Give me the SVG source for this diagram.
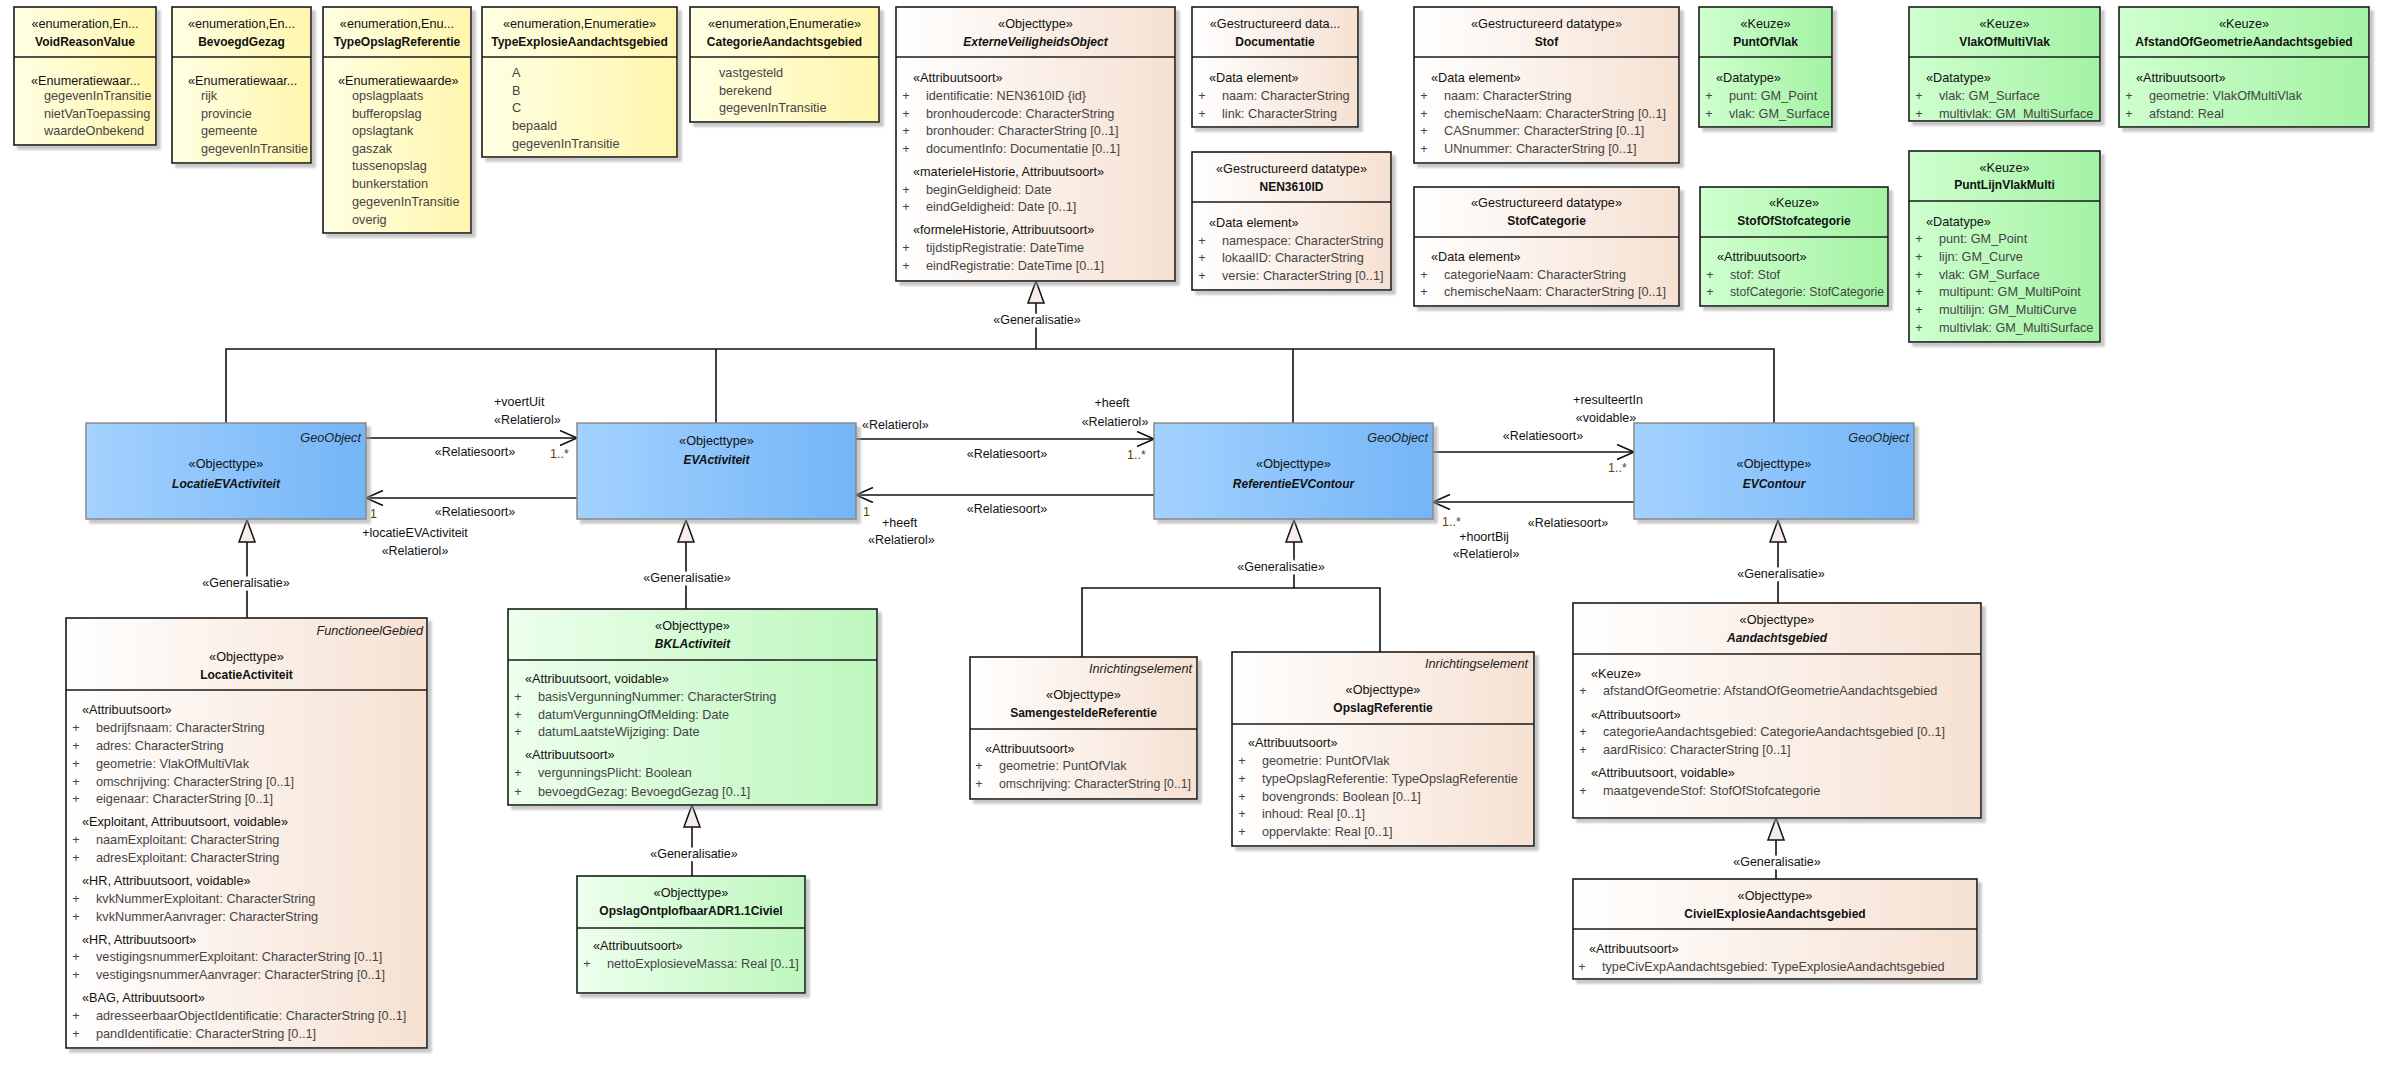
<svg xmlns="http://www.w3.org/2000/svg" width="2392" height="1067" viewBox="0 0 2392 1067">
<defs>
<linearGradient id="gEnum"><stop offset="0" stop-color="#FFFFE3"/><stop offset="1" stop-color="#FFF6AD"/></linearGradient>
<linearGradient id="gBeige"><stop offset="0" stop-color="#FFFFFF"/><stop offset="1" stop-color="#F6E1D2"/></linearGradient>
<linearGradient id="gKeuze"><stop offset="0" stop-color="#CFFFCF"/><stop offset="1" stop-color="#A3F2A3"/></linearGradient>
<linearGradient id="gGreen"><stop offset="0" stop-color="#EDFFED"/><stop offset="1" stop-color="#BDF7BD"/></linearGradient>
<linearGradient id="gBlue"><stop offset="0" stop-color="#A4D2FF"/><stop offset="1" stop-color="#73B5F7"/></linearGradient>
<filter id="sh" x="-5%" y="-5%" width="115%" height="115%"><feDropShadow dx="4" dy="4" stdDeviation="0.8" flood-color="#9a9a9a" flood-opacity="0.55"/></filter>
<marker id="open" markerUnits="userSpaceOnUse" markerWidth="22" markerHeight="20" refX="18" refY="8" orient="auto"><path d="M1,0.5 L18,8 L1,15.5" fill="none" stroke="#111" stroke-width="1.6"/></marker>
<path id="gen" d="M0,0 L8,22 L-8,22 Z" fill="#F5EDEA" stroke="#111" stroke-width="1.5"/>
<style>
text{font-family:"Liberation Sans",Arial,sans-serif;font-size:12.7px;fill:#111}
.box{stroke:#1a1a1a;stroke-width:1.6;filter:url(#sh)}
.blue{fill:url(#gBlue);stroke:#8a8a8a;stroke-width:1.5;filter:url(#sh)}
.enum{fill:url(#gEnum)}
.beige{fill:url(#gBeige)}
.keuze{fill:url(#gKeuze)}
.green{fill:url(#gGreen)}
.div{stroke:#1a1a1a;stroke-width:1.6}
.st{text-anchor:middle}
.nm{text-anchor:middle;font-weight:bold;font-size:12px}
.nmi{text-anchor:middle;font-weight:bold;font-style:italic;font-size:12px}
.sec{fill:#111}
.it{fill:#444}
.pl{fill:#444;text-anchor:middle}
.geo{text-anchor:end;font-style:italic;fill:#222}
.lbl{font-size:12.5px}
.mid{text-anchor:middle}
.mult{font-size:12.5px;fill:#6b3a00}
.gl{font-size:12.5px;text-anchor:middle;paint-order:stroke;stroke:#fff;stroke-width:7px;stroke-linejoin:round}
.ln{fill:none;stroke:#111;stroke-width:1.6}
</style>
</defs>
<rect width="2392" height="1067" fill="#fff"/>

<g id="connectors">
<polyline class="ln" points="226,423 226,349 1774,349 1774,423"/>
<line class="ln" x1="716" y1="349" x2="716" y2="423"/>
<line class="ln" x1="1293" y1="349" x2="1293" y2="423"/>
<line class="ln" x1="1036" y1="349" x2="1036" y2="303"/>
<use href="#gen" x="1036" y="281"/>
<text class="gl" x="1037" y="323.5">«Generalisatie»</text>

<line class="ln" x1="366" y1="438" x2="577" y2="438" marker-end="url(#open)"/>
<text class="lbl" x="494" y="406">+voertUit</text>
<text class="lbl" x="494" y="424">«Relatierol»</text>
<text class="lbl mid" x="475" y="455.5">«Relatiesoort»</text>
<text class="mult" x="550" y="457.5">1..*</text>

<line class="ln" x1="577" y1="498" x2="366" y2="498" marker-end="url(#open)"/>
<text class="lbl mid" x="475" y="515.5">«Relatiesoort»</text>
<text class="mult" x="370" y="517.5">1</text>
<text class="lbl mid" x="415" y="536.5">+locatieEVActiviteit</text>
<text class="lbl mid" x="415" y="554.5">«Relatierol»</text>

<line class="ln" x1="856" y1="439" x2="1154" y2="439" marker-end="url(#open)"/>
<text class="lbl" x="862" y="428.5">«Relatierol»</text>
<text class="lbl mid" x="1112" y="406.5">+heeft</text>
<text class="lbl mid" x="1115" y="425.5">«Relatierol»</text>
<text class="lbl mid" x="1007" y="457.5">«Relatiesoort»</text>
<text class="mult" x="1127" y="458.5">1..*</text>

<line class="ln" x1="1154" y1="495" x2="856" y2="495" marker-end="url(#open)"/>
<text class="lbl mid" x="1007" y="512.5">«Relatiesoort»</text>
<text class="mult" x="863" y="515.5">1</text>
<text class="lbl" x="882" y="526.5">+heeft</text>
<text class="lbl" x="868" y="543.5">«Relatierol»</text>

<line class="ln" x1="1433" y1="452" x2="1634" y2="452" marker-end="url(#open)"/>
<text class="lbl mid" x="1608" y="403.5">+resulteertIn</text>
<text class="lbl mid" x="1606" y="421.5">«voidable»</text>
<text class="lbl mid" x="1543" y="439.5">«Relatiesoort»</text>
<text class="mult" x="1608" y="471.5">1..*</text>

<line class="ln" x1="1634" y1="502" x2="1433" y2="502" marker-end="url(#open)"/>
<text class="mult" x="1442" y="525.5">1..*</text>
<text class="lbl mid" x="1568" y="526.5">«Relatiesoort»</text>
<text class="lbl mid" x="1484" y="540.5">+hoortBij</text>
<text class="lbl mid" x="1486" y="557.5">«Relatierol»</text>

<line class="ln" x1="247" y1="542" x2="247" y2="618"/>
<use href="#gen" x="247" y="520"/>
<text class="gl" x="246" y="586.5">«Generalisatie»</text>

<line class="ln" x1="686" y1="542" x2="686" y2="609"/>
<use href="#gen" x="686" y="520"/>
<text class="gl" x="687" y="581.5">«Generalisatie»</text>

<line class="ln" x1="692" y1="827" x2="692" y2="876"/>
<use href="#gen" x="692" y="805"/>
<text class="gl" x="694" y="857.5">«Generalisatie»</text>

<polyline class="ln" points="1082,657 1082,588 1380,588 1380,652"/>
<line class="ln" x1="1294" y1="542" x2="1294" y2="588"/>
<use href="#gen" x="1294" y="520"/>
<text class="gl" x="1281" y="570.5">«Generalisatie»</text>

<line class="ln" x1="1778" y1="542" x2="1778" y2="603"/>
<use href="#gen" x="1778" y="520"/>
<text class="gl" x="1781" y="577.5">«Generalisatie»</text>

<line class="ln" x1="1776" y1="840" x2="1776" y2="879"/>
<use href="#gen" x="1776" y="818"/>
<text class="gl" x="1777" y="866">«Generalisatie»</text>
</g>

<g id="VoidReasonValue">
<rect class="box enum" x="14" y="7" width="142" height="138"/>
<line class="div" x1="14" y1="57" x2="156" y2="57"/>
<text class="st" x="85" y="27.5">«enumeration,En...</text>
<text class="nm" x="85" y="45.5">VoidReasonValue</text>
<text class="sec" x="31" y="84.5">«Enumeratiewaar...</text>
<text class="it" x="44" y="99.5">gegevenInTransitie</text>
<text class="it" x="44" y="117.5">nietVanToepassing</text>
<text class="it" x="44" y="134.5">waardeOnbekend</text>
</g>

<g id="BevoegdGezag">
<rect class="box enum" x="172" y="7" width="139" height="156"/>
<line class="div" x1="172" y1="57" x2="311" y2="57"/>
<text class="st" x="241.5" y="27.5">«enumeration,En...</text>
<text class="nm" x="241.5" y="45.5">BevoegdGezag</text>
<text class="sec" x="188" y="84.5">«Enumeratiewaar...</text>
<text class="it" x="201" y="99.5">rijk</text>
<text class="it" x="201" y="117.5">provincie</text>
<text class="it" x="201" y="134.5">gemeente</text>
<text class="it" x="201" y="152.5" textLength="107" lengthAdjust="spacingAndGlyphs">gegevenInTransitie</text>
</g>

<g id="TypeOpslagReferentie">
<rect class="box enum" x="323" y="7" width="148" height="226"/>
<line class="div" x1="323" y1="57" x2="471" y2="57"/>
<text class="st" x="397" y="27.5">«enumeration,Enu...</text>
<text class="nm" x="397" y="45.5">TypeOpslagReferentie</text>
<text class="sec" x="338" y="84.5">«Enumeratiewaarde»</text>
<text class="it" x="352" y="99.5">opslagplaats</text>
<text class="it" x="352" y="117.5">bufferopslag</text>
<text class="it" x="352" y="134.5">opslagtank</text>
<text class="it" x="352" y="152.5">gaszak</text>
<text class="it" x="352" y="170">tussenopslag</text>
<text class="it" x="352" y="188">bunkerstation</text>
<text class="it" x="352" y="205.5">gegevenInTransitie</text>
<text class="it" x="352" y="223.5">overig</text>
</g>

<g id="TypeExplosieAandachtsgebied">
<rect class="box enum" x="482" y="7" width="195" height="150"/>
<line class="div" x1="482" y1="57" x2="677" y2="57"/>
<text class="st" x="579.5" y="27.5">«enumeration,Enumeratie»</text>
<text class="nm" x="579.5" y="45.5">TypeExplosieAandachtsgebied</text>
<text class="it" x="512" y="76.5">A</text>
<text class="it" x="512" y="94.5">B</text>
<text class="it" x="512" y="112">C</text>
<text class="it" x="512" y="129.5">bepaald</text>
<text class="it" x="512" y="147.5">gegevenInTransitie</text>
</g>

<g id="CategorieAandachtsgebied">
<rect class="box enum" x="690" y="7" width="189" height="115"/>
<line class="div" x1="690" y1="57" x2="879" y2="57"/>
<text class="st" x="784.5" y="27.5">«enumeration,Enumeratie»</text>
<text class="nm" x="784.5" y="45.5">CategorieAandachtsgebied</text>
<text class="it" x="719" y="76.5">vastgesteld</text>
<text class="it" x="719" y="94.5">berekend</text>
<text class="it" x="719" y="112">gegevenInTransitie</text>
</g>

<g id="ExterneVeiligheidsObject">
<rect class="box beige" x="896" y="7" width="279" height="274"/>
<line class="div" x1="896" y1="57" x2="1175" y2="57"/>
<text class="st" x="1035.5" y="27.5">«Objecttype»</text>
<text class="nmi" x="1035.5" y="45.5">ExterneVeiligheidsObject</text>
<text class="sec" x="913" y="81.5">«Attribuutsoort»</text>
<text class="pl" x="906" y="99.5">+</text><text class="it" x="926" y="99.5">identificatie: NEN3610ID {id}</text>
<text class="pl" x="906" y="117.5">+</text><text class="it" x="926" y="117.5">bronhoudercode: CharacterString</text>
<text class="pl" x="906" y="134.5">+</text><text class="it" x="926" y="134.5">bronhouder: CharacterString [0..1]</text>
<text class="pl" x="906" y="152.5">+</text><text class="it" x="926" y="152.5">documentInfo: Documentatie [0..1]</text>
<text class="sec" x="913" y="175.5">«materieleHistorie, Attribuutsoort»</text>
<text class="pl" x="906" y="193.5">+</text><text class="it" x="926" y="193.5">beginGeldigheid: Date</text>
<text class="pl" x="906" y="210.5">+</text><text class="it" x="926" y="210.5">eindGeldigheid: Date [0..1]</text>
<text class="sec" x="913" y="233.5">«formeleHistorie, Attribuutsoort»</text>
<text class="pl" x="906" y="251.5">+</text><text class="it" x="926" y="251.5">tijdstipRegistratie: DateTime</text>
<text class="pl" x="906" y="269.5">+</text><text class="it" x="926" y="269.5">eindRegistratie: DateTime [0..1]</text>
</g>

<g id="Documentatie">
<rect class="box beige" x="1192" y="7" width="166" height="120"/>
<line class="div" x1="1192" y1="57" x2="1358" y2="57"/>
<text class="st" x="1275" y="27.5">«Gestructureerd data...</text>
<text class="nm" x="1275" y="45.5">Documentatie</text>
<text class="sec" x="1209" y="81.5">«Data element»</text>
<text class="pl" x="1202" y="99.5">+</text><text class="it" x="1222" y="99.5">naam: CharacterString</text>
<text class="pl" x="1202" y="117.5">+</text><text class="it" x="1222" y="117.5">link: CharacterString</text>
</g>

<g id="NEN3610ID">
<rect class="box beige" x="1192" y="152" width="199" height="138"/>
<line class="div" x1="1192" y1="202" x2="1391" y2="202"/>
<text class="st" x="1291.5" y="172.5">«Gestructureerd datatype»</text>
<text class="nm" x="1291.5" y="190.5">NEN3610ID</text>
<text class="sec" x="1209" y="226.5">«Data element»</text>
<text class="pl" x="1202" y="244.5">+</text><text class="it" x="1222" y="244.5">namespace: CharacterString</text>
<text class="pl" x="1202" y="261.5">+</text><text class="it" x="1222" y="261.5">lokaalID: CharacterString</text>
<text class="pl" x="1202" y="279.5">+</text><text class="it" x="1222" y="279.5">versie: CharacterString [0..1]</text>
</g>

<g id="Stof">
<rect class="box beige" x="1414" y="7" width="265" height="156"/>
<line class="div" x1="1414" y1="57" x2="1679" y2="57"/>
<text class="st" x="1546.5" y="27.5">«Gestructureerd datatype»</text>
<text class="nm" x="1546.5" y="45.5">Stof</text>
<text class="sec" x="1431" y="81.5">«Data element»</text>
<text class="pl" x="1424" y="99.5">+</text><text class="it" x="1444" y="99.5">naam: CharacterString</text>
<text class="pl" x="1424" y="117.5">+</text><text class="it" x="1444" y="117.5">chemischeNaam: CharacterString [0..1]</text>
<text class="pl" x="1424" y="134.5">+</text><text class="it" x="1444" y="134.5">CASnummer: CharacterString [0..1]</text>
<text class="pl" x="1424" y="152.5">+</text><text class="it" x="1444" y="152.5">UNnummer: CharacterString [0..1]</text>
</g>

<g id="StofCategorie">
<rect class="box beige" x="1414" y="187" width="265" height="119"/>
<line class="div" x1="1414" y1="237" x2="1679" y2="237"/>
<text class="st" x="1546.5" y="206.5">«Gestructureerd datatype»</text>
<text class="nm" x="1546.5" y="224.5">StofCategorie</text>
<text class="sec" x="1431" y="260.5">«Data element»</text>
<text class="pl" x="1424" y="278.5">+</text><text class="it" x="1444" y="278.5">categorieNaam: CharacterString</text>
<text class="pl" x="1424" y="295.5">+</text><text class="it" x="1444" y="295.5">chemischeNaam: CharacterString [0..1]</text>
</g>

<g id="PuntOfVlak">
<rect class="box keuze" x="1699" y="7" width="133" height="120"/>
<line class="div" x1="1699" y1="57" x2="1832" y2="57"/>
<text class="st" x="1765.5" y="27.5">«Keuze»</text>
<text class="nm" x="1765.5" y="45.5">PuntOfVlak</text>
<text class="sec" x="1716" y="81.5">«Datatype»</text>
<text class="pl" x="1709" y="99.5">+</text><text class="it" x="1729" y="99.5">punt: GM_Point</text>
<text class="pl" x="1709" y="117.5">+</text><text class="it" x="1729" y="117.5">vlak: GM_Surface</text>
</g>

<g id="VlakOfMultiVlak">
<rect class="box keuze" x="1909" y="7" width="191" height="114"/>
<line class="div" x1="1909" y1="57" x2="2100" y2="57"/>
<text class="st" x="2004.5" y="27.5">«Keuze»</text>
<text class="nm" x="2004.5" y="45.5">VlakOfMultiVlak</text>
<text class="sec" x="1926" y="81.5">«Datatype»</text>
<text class="pl" x="1919" y="99.5">+</text><text class="it" x="1939" y="99.5">vlak: GM_Surface</text>
<text class="pl" x="1919" y="117.5">+</text><text class="it" x="1939" y="117.5">multivlak: GM_MultiSurface</text>
</g>

<g id="AfstandOfGeometrieAandachtsgebied">
<rect class="box keuze" x="2119" y="7" width="250" height="120"/>
<line class="div" x1="2119" y1="57" x2="2369" y2="57"/>
<text class="st" x="2244" y="27.5">«Keuze»</text>
<text class="nm" x="2244" y="45.5">AfstandOfGeometrieAandachtsgebied</text>
<text class="sec" x="2136" y="81.5">«Attribuutsoort»</text>
<text class="pl" x="2129" y="99.5">+</text><text class="it" x="2149" y="99.5">geometrie: VlakOfMultiVlak</text>
<text class="pl" x="2129" y="117.5">+</text><text class="it" x="2149" y="117.5">afstand: Real</text>
</g>

<g id="StofOfStofcategorie">
<rect class="box keuze" x="1700" y="187" width="188" height="119"/>
<line class="div" x1="1700" y1="237" x2="1888" y2="237"/>
<text class="st" x="1794" y="206.5">«Keuze»</text>
<text class="nm" x="1794" y="224.5">StofOfStofcategorie</text>
<text class="sec" x="1717" y="260.5">«Attribuutsoort»</text>
<text class="pl" x="1710" y="278.5">+</text><text class="it" x="1730" y="278.5">stof: Stof</text>
<text class="pl" x="1710" y="295.5">+</text><text class="it" x="1730" y="295.5" textLength="154" lengthAdjust="spacingAndGlyphs">stofCategorie: StofCategorie</text>
</g>

<g id="PuntLijnVlakMulti">
<rect class="box keuze" x="1909" y="151" width="191" height="191"/>
<line class="div" x1="1909" y1="201" x2="2100" y2="201"/>
<text class="st" x="2004.5" y="171.5">«Keuze»</text>
<text class="nm" x="2004.5" y="188.5">PuntLijnVlakMulti</text>
<text class="sec" x="1926" y="225.5">«Datatype»</text>
<text class="pl" x="1919" y="242.5">+</text><text class="it" x="1939" y="242.5">punt: GM_Point</text>
<text class="pl" x="1919" y="260.5">+</text><text class="it" x="1939" y="260.5">lijn: GM_Curve</text>
<text class="pl" x="1919" y="278.5">+</text><text class="it" x="1939" y="278.5">vlak: GM_Surface</text>
<text class="pl" x="1919" y="295.5">+</text><text class="it" x="1939" y="295.5">multipunt: GM_MultiPoint</text>
<text class="pl" x="1919" y="313.5">+</text><text class="it" x="1939" y="313.5">multilijn: GM_MultiCurve</text>
<text class="pl" x="1919" y="331.5">+</text><text class="it" x="1939" y="331.5">multivlak: GM_MultiSurface</text>
</g>

<g id="LocatieEVActiviteit">
<rect class="blue" x="86" y="423" width="280" height="96"/>
<text class="geo" x="361" y="441.5">GeoObject</text>
<text class="st" x="226" y="467.5">«Objecttype»</text>
<text class="nmi" x="226" y="487.5">LocatieEVActiviteit</text>
</g>

<g id="EVActiviteit">
<rect class="blue" x="577" y="423" width="279" height="96"/>
<text class="st" x="716.5" y="444.5">«Objecttype»</text>
<text class="nmi" x="716.5" y="463.5">EVActiviteit</text>
</g>

<g id="ReferentieEVContour">
<rect class="blue" x="1154" y="423" width="279" height="96"/>
<text class="geo" x="1428" y="441.5">GeoObject</text>
<text class="st" x="1293.5" y="467.5">«Objecttype»</text>
<text class="nmi" x="1293.5" y="487.5">ReferentieEVContour</text>
</g>

<g id="EVContour">
<rect class="blue" x="1634" y="423" width="280" height="96"/>
<text class="geo" x="1909" y="441.5">GeoObject</text>
<text class="st" x="1774" y="467.5">«Objecttype»</text>
<text class="nmi" x="1774" y="487.5">EVContour</text>
</g>

<g id="LocatieActiviteit">
<rect class="box beige" x="66" y="618" width="361" height="430"/>
<line class="div" x1="66" y1="690" x2="427" y2="690"/>
<text class="geo" x="423" y="635">FunctioneelGebied</text>
<text class="st" x="246.5" y="661">«Objecttype»</text>
<text class="nm" x="246.5" y="679">LocatieActiviteit</text>
<text class="sec" x="82" y="714">«Attribuutsoort»</text>
<text class="pl" x="76" y="732">+</text><text class="it" x="96" y="732">bedrijfsnaam: CharacterString</text>
<text class="pl" x="76" y="750">+</text><text class="it" x="96" y="750">adres: CharacterString</text>
<text class="pl" x="76" y="768">+</text><text class="it" x="96" y="768">geometrie: VlakOfMultiVlak</text>
<text class="pl" x="76" y="785.5">+</text><text class="it" x="96" y="785.5">omschrijving: CharacterString [0..1]</text>
<text class="pl" x="76" y="803">+</text><text class="it" x="96" y="803">eigenaar: CharacterString [0..1]</text>
<text class="sec" x="82" y="826">«Exploitant, Attribuutsoort, voidable»</text>
<text class="pl" x="76" y="844">+</text><text class="it" x="96" y="844">naamExploitant: CharacterString</text>
<text class="pl" x="76" y="862">+</text><text class="it" x="96" y="862">adresExploitant: CharacterString</text>
<text class="sec" x="82" y="885">«HR, Attribuutsoort, voidable»</text>
<text class="pl" x="76" y="903">+</text><text class="it" x="96" y="903">kvkNummerExploitant: CharacterString</text>
<text class="pl" x="76" y="920.5">+</text><text class="it" x="96" y="920.5">kvkNummerAanvrager: CharacterString</text>
<text class="sec" x="82" y="944">«HR, Attribuutsoort»</text>
<text class="pl" x="76" y="961">+</text><text class="it" x="96" y="961">vestigingsnummerExploitant: CharacterString [0..1]</text>
<text class="pl" x="76" y="979">+</text><text class="it" x="96" y="979">vestigingsnummerAanvrager: CharacterString [0..1]</text>
<text class="sec" x="82" y="1002">«BAG, Attribuutsoort»</text>
<text class="pl" x="76" y="1020">+</text><text class="it" x="96" y="1020">adresseerbaarObjectIdentificatie: CharacterString [0..1]</text>
<text class="pl" x="76" y="1038">+</text><text class="it" x="96" y="1038">pandIdentificatie: CharacterString [0..1]</text>
</g>

<g id="BKLActiviteit">
<rect class="box green" x="508" y="609" width="369" height="196"/>
<line class="div" x1="508" y1="660" x2="877" y2="660"/>
<text class="st" x="692.5" y="630">«Objecttype»</text>
<text class="nmi" x="692.5" y="648">BKLActiviteit</text>
<text class="sec" x="525" y="683">«Attribuutsoort, voidable»</text>
<text class="pl" x="518" y="701">+</text><text class="it" x="538" y="701">basisVergunningNummer: CharacterString</text>
<text class="pl" x="518" y="719">+</text><text class="it" x="538" y="719">datumVergunningOfMelding: Date</text>
<text class="pl" x="518" y="736">+</text><text class="it" x="538" y="736">datumLaatsteWijziging: Date</text>
<text class="sec" x="525" y="759">«Attribuutsoort»</text>
<text class="pl" x="518" y="777">+</text><text class="it" x="538" y="777">vergunningsPlicht: Boolean</text>
<text class="pl" x="518" y="795.5">+</text><text class="it" x="538" y="795.5">bevoegdGezag: BevoegdGezag [0..1]</text>
</g>

<g id="OpslagOntplofbaarADR1.1Civiel">
<rect class="box green" x="577" y="876" width="228" height="117"/>
<line class="div" x1="577" y1="928" x2="805" y2="928"/>
<text class="st" x="691" y="897">«Objecttype»</text>
<text class="nm" x="691" y="915">OpslagOntplofbaarADR1.1Civiel</text>
<text class="sec" x="593" y="950">«Attribuutsoort»</text>
<text class="pl" x="587" y="968">+</text><text class="it" x="607" y="968">nettoExplosieveMassa: Real [0..1]</text>
</g>

<g id="SamengesteldeReferentie">
<rect class="box beige" x="970" y="657" width="227" height="142"/>
<line class="div" x1="970" y1="729" x2="1197" y2="729"/>
<text class="geo" x="1192" y="673">Inrichtingselement</text>
<text class="st" x="1083.5" y="699">«Objecttype»</text>
<text class="nm" x="1083.5" y="717">SamengesteldeReferentie</text>
<text class="sec" x="985" y="753">«Attribuutsoort»</text>
<text class="pl" x="979" y="770">+</text><text class="it" x="999" y="770">geometrie: PuntOfVlak</text>
<text class="pl" x="979" y="788">+</text><text class="it" x="999" y="788" textLength="192" lengthAdjust="spacingAndGlyphs">omschrijving: CharacterString [0..1]</text>
</g>

<g id="OpslagReferentie">
<rect class="box beige" x="1232" y="652" width="302" height="194"/>
<line class="div" x1="1232" y1="724" x2="1534" y2="724"/>
<text class="geo" x="1528" y="668">Inrichtingselement</text>
<text class="st" x="1383" y="694">«Objecttype»</text>
<text class="nm" x="1383" y="712">OpslagReferentie</text>
<text class="sec" x="1248" y="747">«Attribuutsoort»</text>
<text class="pl" x="1242" y="765">+</text><text class="it" x="1262" y="765">geometrie: PuntOfVlak</text>
<text class="pl" x="1242" y="783">+</text><text class="it" x="1262" y="783">typeOpslagReferentie: TypeOpslagReferentie</text>
<text class="pl" x="1242" y="800.5">+</text><text class="it" x="1262" y="800.5">bovengronds: Boolean [0..1]</text>
<text class="pl" x="1242" y="818">+</text><text class="it" x="1262" y="818">inhoud: Real [0..1]</text>
<text class="pl" x="1242" y="836">+</text><text class="it" x="1262" y="836">oppervlakte: Real [0..1]</text>
</g>

<g id="Aandachtsgebied">
<rect class="box beige" x="1573" y="603" width="408" height="215"/>
<line class="div" x1="1573" y1="654" x2="1981" y2="654"/>
<text class="st" x="1777" y="624">«Objecttype»</text>
<text class="nmi" x="1777" y="642">Aandachtsgebied</text>
<text class="sec" x="1591" y="678">«Keuze»</text>
<text class="pl" x="1583" y="694.5">+</text><text class="it" x="1603" y="694.5">afstandOfGeometrie: AfstandOfGeometrieAandachtsgebied</text>
<text class="sec" x="1591" y="719">«Attribuutsoort»</text>
<text class="pl" x="1583" y="736">+</text><text class="it" x="1603" y="736">categorieAandachtsgebied: CategorieAandachtsgebied [0..1]</text>
<text class="pl" x="1583" y="754">+</text><text class="it" x="1603" y="754">aardRisico: CharacterString [0..1]</text>
<text class="sec" x="1591" y="777">«Attribuutsoort, voidable»</text>
<text class="pl" x="1583" y="795">+</text><text class="it" x="1603" y="795">maatgevendeStof: StofOfStofcategorie</text>
</g>

<g id="CivielExplosieAandachtsgebied">
<rect class="box beige" x="1573" y="879" width="404" height="100"/>
<line class="div" x1="1573" y1="929" x2="1977" y2="929"/>
<text class="st" x="1775" y="899.5">«Objecttype»</text>
<text class="nm" x="1775" y="918">CivielExplosieAandachtsgebied</text>
<text class="sec" x="1589" y="953">«Attribuutsoort»</text>
<text class="pl" x="1582" y="971">+</text><text class="it" x="1602" y="971">typeCivExpAandachtsgebied: TypeExplosieAandachtsgebied</text>
</g>
</svg>
